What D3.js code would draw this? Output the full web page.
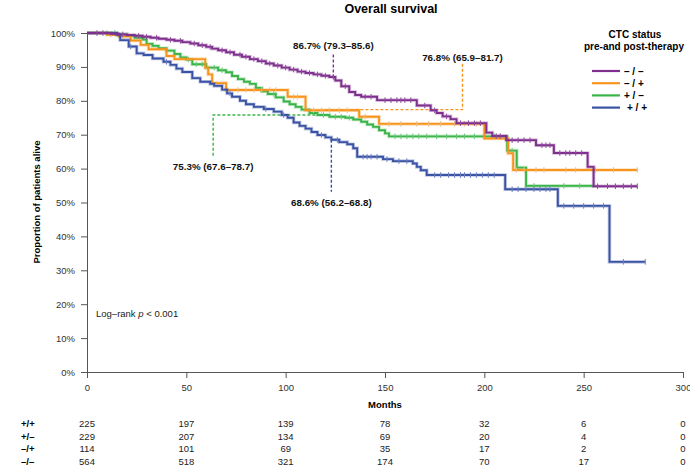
<!DOCTYPE html>
<html>
<head>
<meta charset="utf-8">
<script src="https://cdn.jsdelivr.net/npm/d3@7"></script>
<style>
body { margin: 0; background: #fff; }
svg text { font-family: "Liberation Sans", Arial, sans-serif; }
</style>
</head>
<body>
<div id="chart"></div>
<script>
// groups, in legend order
var groups = ["\u2013 / \u2013", "\u2013 / +", "+ / \u2013", "+ / +"];
var colors = ["#7f2f8e", "#f7941d", "#3bb44a", "#3a53a4"];
var censorColors = ["#8f4c9c", "#e2c08c", "#6cc677", "#6b80c1"];

// -/- (purple)
var timesNN = [0,12,16,20,24,28,32,36,40,44,48,52,56,60,63,66,70,74,78,82,86,90,94,98,102,106,110,114,118,122,125,128,132,135,138,146,166,173,176,179,183,186,201,204,211,226,235,252,255];
var survNN = [100,99.8,99.6,99.4,99.2,98.9,98.6,98.3,98.0,97.7,97.3,96.9,96.4,95.9,95.4,94.9,94.3,93.6,93.0,92.3,91.7,91.0,90.4,89.8,89.2,88.6,88.2,87.8,87.4,87.0,86.0,84.3,82.6,81.7,81.2,80.2,78.6,77.2,76.4,75.4,74.6,73.4,70.6,69.6,68.4,66.9,64.6,60.5,54.8];
var censorNN = [5,8,18,26,30,35,42,47,54,58,62,68,72,77,80,84,88,92,96,100,104,108,112,116,120,124,130,140,143,150,153,156,158,160,163,170,175,181,188,192,195,198,206,208,214,217,220,223,229,231,233,238,241,243,246,249,257,262,266,270,274,277];
var endNN = 277;

// -/+ (orange)
var timesNP = [0,10,16,22,27,31,40,44,59.5,61,63,70,101,110,137,147,200,212,214.5];
var survNP = [100,99.5,99.0,97.8,96.5,95.2,93.2,92.3,89.8,87.8,85.2,83.2,81.2,77.2,75.3,73.2,68.9,64.5,59.6];
var censorNP = [12,18,76,80,84,88,92,95,104,106,114,118,122,127,131,140,152,158,166,172,178,185,190,196,216,220,226,230,241,246,256,265,277];
var endNP = 277;

// +/- (green)
var timesPN = [0,15,20,24,28,30,33,36,40,44,47,50,53,60,66,70,73,76,79,82,85,88,91,95,99,102,105,108,112,116,122,130,134,138,141,144,147,150,152,211.5,216.3,221];
var survPN = [100,99.6,99.2,98.6,98.1,96.8,96.2,95.5,94.8,93.8,92.8,92.2,90.8,89.8,89.0,88.4,87.3,86.4,85.6,85.0,83.8,82.8,82.0,81.0,79.8,79.0,78.2,77.4,76.4,75.8,75.3,75.0,74.5,73.8,73.0,72.3,71.3,70.4,69.5,65.3,60.3,54.9];
var censorPN = [10,14,51,55,58,64,68,94,119,125,128,132,155,158,161,164,167,171,176,181,186,190,195,200,205,214,225,240,248];
var endPN = 255;

// +/+ (blue)
var timesPP = [0,15,16.7,21,25,28.5,33,38.5,42,45,48,53,57,62,64,68,70.5,73,77,80,84,89,94,98,101,104,107,110,113,116,120,123,127,131,134,136,149,154,164,166,168,171,210.5,237,263];
var survPP = [100,99.5,97.9,96.0,94.0,93.5,92.5,91.5,90.6,89.5,88.5,86.7,85.6,85.0,84.4,83.3,82.2,81.2,80.0,79.0,78.2,77.6,76.8,75.8,75.0,73.6,72.6,71.8,70.8,69.9,69.2,68.5,67.8,67.2,66.0,63.5,62.8,62.2,61.5,60.5,59.5,58.1,53.9,49.0,32.5];
var censorPP = [22,40,72,90,99,118,126,139,141,143,146,151,157,161,175,178,182,185,188,190,193,196,199,202,205,214,217,221,225,228,231,233,240,245,250,255,260,270,281];
var endPP = 281;

// number at risk
var riskLabels = ["+/+", "+/\u2013", "\u2013/+", "\u2013/\u2013"];
var riskTimes = [0, 50, 100, 150, 200, 250, 300];
var riskPP = [225, 197, 139, 78, 32, 6, 0];
var riskPN = [229, 207, 134, 69, 20, 4, 0];
var riskNP = [114, 101, 69, 35, 17, 2, 0];
var riskNN = [564, 518, 321, 174, 70, 17, 0];

// 10-year survival callouts (months, %)
var annotLabels = ["86.7% (79.3\u201385.6)", "76.8% (65.9\u201381.7)", "75.3% (67.6\u201378.7)", "68.6% (56.2\u201368.8)"];
var annotPaths = [
    [[124, 86.9], [124, 94.2]],
    [[120, 77.4], [189, 77.4], [189, 90.9]],
    [[120, 75.8], [63.5, 75.8], [63.5, 63.5]],
    [[123, 68.5], [123, 53.2]]
];
var annotAt = [[124, 95.4], [189, 91.8], [63.5, 59.7], [123, 49.1]];

var series = [
    {times: timesNN, surv: survNN, censor: censorNN, end: endNN, c: 0},
    {times: timesNP, surv: survNP, censor: censorNP, end: endNP, c: 1},
    {times: timesPN, surv: survPN, censor: censorPN, end: endPN, c: 2},
    {times: timesPP, surv: survPP, censor: censorPP, end: endPP, c: 3}
];

var W = 690, H = 467;
var svg = d3.select("#chart").append("svg")
    .attr("width", W)
    .attr("height", H);

var x = d3.scaleLinear().domain([0, 300]).range([87, 683]);
var y = d3.scaleLinear().domain([0, 100]).range([372, 33]);

function survAt(s, t) {
    var v = s.surv[0];
    for (var i = 0; i < s.times.length; i++) {
        if (s.times[i] <= t) v = s.surv[i];
    }
    return v;
}

// title
svg.append("text")
    .attr("x", 391).attr("y", 13)
    .attr("text-anchor", "middle")
    .style("font-size", "12.5px")
    .style("font-weight", "bold")
    .text("Overall survival");

// axes
var yAxis = d3.axisLeft(y)
    .tickValues(d3.range(0, 101, 10))
    .tickFormat(function (d) { return d + "%"; })
    .tickSize(6).tickSizeOuter(0).tickPadding(6);
var gY = svg.append("g")
    .attr("transform", "translate(" + x(0) + ",0)")
    .call(yAxis);

var xAxis = d3.axisBottom(x)
    .tickValues(riskTimes)
    .tickSize(6).tickSizeOuter(0).tickPadding(6);
var gX = svg.append("g")
    .attr("transform", "translate(0," + y(0) + ")")
    .call(xAxis);

[gX, gY].forEach(function (g) {
    g.select(".domain").attr("stroke", "#555");
    g.selectAll(".tick line").attr("stroke", "#555");
    g.selectAll(".tick text")
        .style("font-size", "9.5px")
        .style("font-family", "'Liberation Sans', Arial, sans-serif")
        .attr("fill", "#333");
});

svg.append("text")
    .attr("transform", "translate(40,202) rotate(-90)")
    .attr("text-anchor", "middle")
    .style("font-size", "9.5px")
    .style("font-weight", "bold")
    .text("Proportion of patients alive");

svg.append("text")
    .attr("x", x(150)).attr("y", 407.5)
    .attr("text-anchor", "middle")
    .style("font-size", "9.5px")
    .style("font-weight", "bold")
    .text("Months");

var lr = svg.append("text")
    .attr("x", 96).attr("y", 317)
    .style("font-size", "9.5px")
    .attr("fill", "#222");
lr.append("tspan").text("Log\u2013rank ");
lr.append("tspan").style("font-style", "italic").text("p");
lr.append("tspan").text(" < 0.001");

// annotation dashed lines
var dashLine = d3.line()
    .x(function (d) { return x(d[0]); })
    .y(function (d) { return y(d[1]); });

annotPaths.forEach(function (p, i) {
    svg.append("path")
        .attr("d", dashLine(p))
        .attr("fill", "none")
        .attr("stroke", colors[i])
        .attr("stroke-width", 1.4)
        .attr("stroke-dasharray", "3,2");
    svg.append("text")
        .attr("x", x(annotAt[i][0]))
        .attr("y", y(annotAt[i][1]))
        .attr("text-anchor", "middle")
        .style("font-size", "9.8px")
        .style("font-weight", "bold")
        .attr("fill", "#111")
        .text(annotLabels[i]);
});

// survival curves
var line = d3.line()
    .curve(d3.curveStepAfter)
    .x(function (d) { return x(d[0]); })
    .y(function (d) { return y(d[1]); });

var drawOrder = [2, 1, 3, 0];
drawOrder.forEach(function (k) {
    var s = series[k];
    var pts = s.times.map(function (t, i) { return [t, s.surv[i]]; });
    pts.push([s.end, s.surv[s.surv.length - 1]]);
    var g = svg.append("g");
    g.append("path")
        .attr("d", line(pts))
        .attr("fill", "none")
        .attr("stroke", colors[s.c])
        .attr("stroke-opacity", 0.3)
        .attr("stroke-width", 3.6);
    g.append("path")
        .attr("d", line(pts))
        .attr("fill", "none")
        .attr("stroke", colors[s.c])
        .attr("stroke-width", 1.9);
    g.selectAll("line.censor")
        .data(s.censor)
        .enter().append("line")
        .attr("class", "censor")
        .attr("x1", function (d) { return x(d); })
        .attr("x2", function (d) { return x(d); })
        .attr("y1", function (d) { return y(survAt(s, d)) - 2.8; })
        .attr("y2", function (d) { return y(survAt(s, d)) + 2.8; })
        .attr("stroke", censorColors[s.c])
        .attr("stroke-width", 1);
});

// legend
var legend = svg.append("g");
legend.append("text")
    .attr("x", 635).attr("y", 37.5)
    .attr("text-anchor", "middle")
    .style("font-size", "10px").style("font-weight", "bold")
    .text("CTC status");
legend.append("text")
    .attr("x", 634).attr("y", 50)
    .attr("text-anchor", "middle")
    .style("font-size", "10px").style("font-weight", "bold")
    .text("pre-and post-therapy");
groups.forEach(function (gname, i) {
    var ly = 71 + i * 12.2;
    legend.append("line")
        .attr("x1", 592).attr("x2", 620)
        .attr("y1", ly).attr("y2", ly)
        .attr("stroke", colors[i])
        .attr("stroke-width", 2.2);
    legend.append("text")
        .attr("x", i == 3 ? 627 : 624).attr("y", ly)
        .attr("dy", "0.35em")
        .style("font-size", "10px").style("font-weight", "bold")
        .text(gname);
});

// number at risk table
var riskRows = [riskPP, riskPN, riskNP, riskNN];
riskRows.forEach(function (row, r) {
    var ry = 424 + r * 12.5;
    svg.append("text")
        .attr("x", 21).attr("y", ry)
        .attr("dy", "0.35em")
        .style("font-size", "9.5px").style("font-weight", "bold")
        .text(riskLabels[r]);
    svg.selectAll(null)
        .data(row)
        .enter().append("text")
        .attr("x", function (d, i) { return x(riskTimes[i]); })
        .attr("y", ry)
        .attr("dy", "0.35em")
        .attr("text-anchor", "middle")
        .style("font-size", "9.5px")
        .attr("fill", "#222")
        .text(function (d) { return d; });
});
</script>
</body>
</html>
